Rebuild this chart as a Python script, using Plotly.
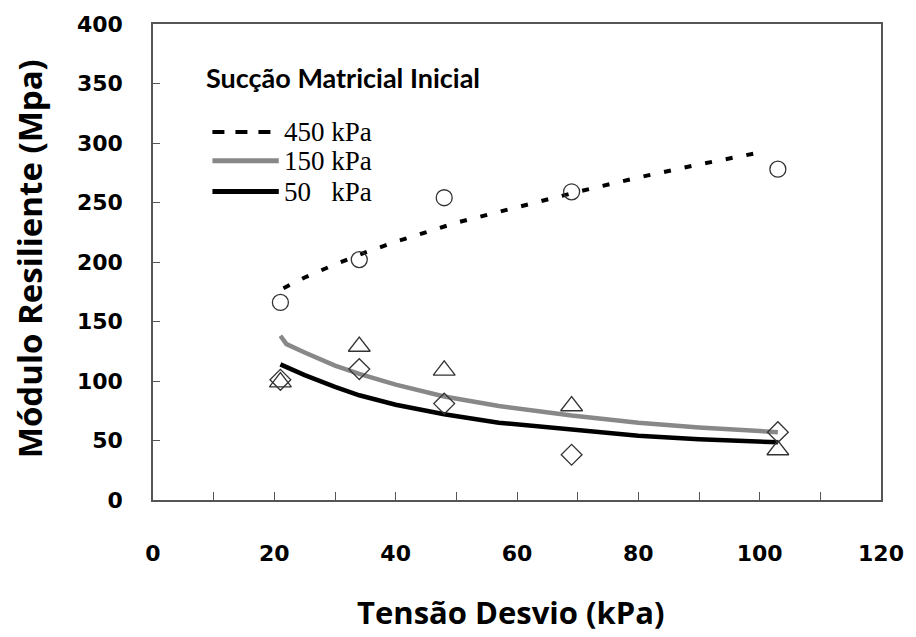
import plotly.graph_objects as go

# Measured points (Tensão Desvio kPa, Módulo Resiliente MPa)
x_pts = [21, 34, 48, 69, 103]
mr_450 = [166, 202, 254, 259, 278]
mr_150 = [99, 129, 109, 79, 42]
mr_50 = [101, 110, 81, 38, 57]

# Fitted curves
fit450_x = [21.5, 25, 30, 35, 40, 50, 60, 70, 80, 90, 101]
fit450_y = [178, 187, 198, 208, 217, 233, 246, 259, 271, 282, 293]
fit150_x = [21, 22, 25, 30, 34, 40, 48, 57, 69, 80, 90, 103]
fit150_y = [138, 131, 124, 113, 106, 97, 87, 79, 71, 65, 61, 57]
fit50_x = [21, 25, 30, 34, 40, 48, 57, 69, 80, 90, 103]
fit50_y = [114, 105, 95, 88, 80, 72, 65, 59, 54, 51, 48.5]

legend_labels = ["450 kPa", "150 kPa", "50\u00a0\u00a0\u00a0kPa"]
legend_title = "Sucção Matricial Inicial"
x_title = "Tensão Desvio (kPa)"
y_title = "Módulo Resiliente (Mpa)"

W, H = 916, 637
L, R, T, B = 153, 28, 20, 137
pw, ph = W - L - R, H - T - B

def px(x):
    return (x - L) / pw

def py(y):
    return (H - B - y) / ph

fig = go.Figure()

fig.add_trace(go.Scatter(x=fit450_x, y=fit450_y, mode="lines",
                         line=dict(color="black", width=4, dash="7px,14px"),
                         showlegend=False))
fig.add_trace(go.Scatter(x=fit150_x, y=fit150_y, mode="lines",
                         line=dict(color="#888888", width=4.5),
                         showlegend=False))
fig.add_trace(go.Scatter(x=fit50_x, y=fit50_y, mode="lines",
                         line=dict(color="black", width=4.5),
                         showlegend=False))

mcol = "#333333"
fig.add_trace(go.Scatter(x=x_pts, y=mr_450, mode="markers",
                         marker=dict(symbol="circle-open", size=16, color=mcol,
                                     line=dict(width=1.3, color=mcol)),
                         showlegend=False))
fig.add_trace(go.Scatter(x=x_pts, y=mr_150, mode="markers",
                         marker=dict(symbol="triangle-up-open", size=19, color=mcol,
                                     line=dict(width=1.3, color=mcol)),
                         showlegend=False))
fig.add_trace(go.Scatter(x=x_pts, y=mr_50, mode="markers",
                         marker=dict(symbol="diamond-open", size=16, color=mcol,
                                     line=dict(width=1.3, color=mcol)),
                         showlegend=False))

tickfont = dict(family="DejaVu Sans", size=22, color="black", weight="bold")

fig.update_xaxes(range=[0, 120], dtick=20, tick0=0, ticks="inside", ticklen=8,
                 tickwidth=1.3, tickcolor="#555555",
                 showline=True, linecolor="#555555", linewidth=1.5, mirror=True,
                 showgrid=False, zeroline=False, tickfont=tickfont,
                 ticklabelstandoff=33,
                 minor=dict(dtick=10, ticks="inside", ticklen=8, tickwidth=1.3,
                            tickcolor="#555555", showgrid=False))
fig.update_yaxes(range=[0, 400], dtick=50, tick0=0, ticks="inside", ticklen=7,
                 tickwidth=1.3, tickcolor="#555555",
                 showline=True, linecolor="#555555", linewidth=1.5, mirror=True,
                 showgrid=False, zeroline=False, tickfont=tickfont,
                 ticklabelstandoff=24)

annotations = [
    dict(text=legend_title, x=px(204), y=py(74), xref="paper", yref="paper",
         xanchor="left", yanchor="middle", showarrow=False,
         font=dict(family="Lato", size=27, color="black", weight="bold")),
    dict(text=x_title, x=px(514), y=py(613), xref="paper", yref="paper",
         xanchor="center", yanchor="middle", showarrow=False,
         font=dict(family="Open Sans", size=31, color="black", weight="bold")),
    dict(text=y_title, x=px(28), y=py(257), xref="paper", yref="paper",
         xanchor="center", yanchor="middle", showarrow=False, textangle=-90,
         font=dict(family="Open Sans", size=33, color="black", weight="bold")),
]
leg_y = [129, 158, 189]
leg_styles = [dict(color="black", width=4, dash="12px,11px"),
              dict(color="#888888", width=5),
              dict(color="black", width=5)]
shapes = []
for lbl, yy, st in zip(legend_labels, leg_y, leg_styles):
    annotations.append(dict(text=lbl, x=px(283), y=py(yy), xref="paper", yref="paper",
                            xanchor="left", yanchor="middle", showarrow=False,
                            font=dict(family="Liberation Serif", size=27, color="black")))
    shapes.append(dict(type="line", xref="paper", yref="paper",
                       x0=px(213), x1=px(280), y0=py(yy), y1=py(yy), line=st))

fig.update_layout(width=W, height=H, margin=dict(l=L, r=R, t=T, b=B),
                  paper_bgcolor="white", plot_bgcolor="white",
                  annotations=annotations, shapes=shapes, showlegend=False)

fig.write_html("out.html")
